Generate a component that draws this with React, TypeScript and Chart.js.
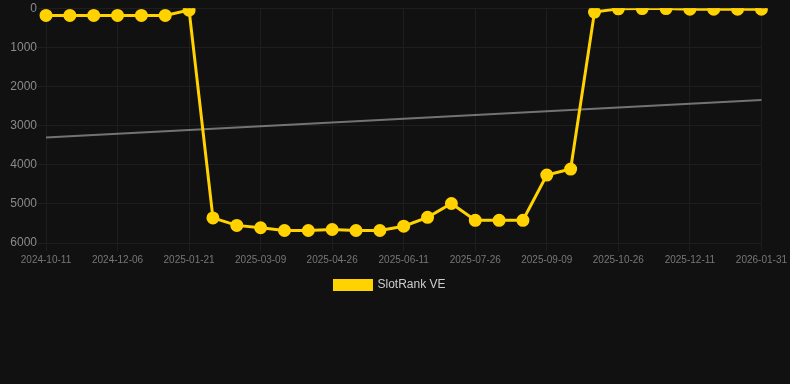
import React, { useEffect, useRef } from "react";
import { Chart, registerables } from "chart.js";

Chart.register(...registerables);

const labels: string[] = [
  "2024-10-11", "2024-10-30", "2024-11-18", "2024-12-06", "2024-12-21", "2025-01-05",
  "2025-01-21", "2025-02-05", "2025-02-22", "2025-03-09", "2025-03-25", "2025-04-10",
  "2025-04-26", "2025-05-11", "2025-05-27", "2025-06-11", "2025-06-26", "2025-07-11",
  "2025-07-26", "2025-08-10", "2025-08-25", "2025-09-09", "2025-09-25", "2025-10-10",
  "2025-10-26", "2025-11-10", "2025-11-26", "2025-12-11", "2025-12-28", "2026-01-14",
  "2026-01-31",
];

const rankValues: number[] = [
  185, 185, 185, 185, 185, 185, 50, 5360, 5550, 5610, 5680, 5680, 5655, 5680, 5680, 5570,
  5345, 4990, 5420, 5420, 5420, 4265, 4110, 100, 15, 10, 10, 25, 25, 25, 25,
];

const trendStart = 3305;
const trendEnd = 2348;

const yTicks = { min: 0, max: 6000, step: 1000 };

export default function App() {
  const ref = useRef<HTMLCanvasElement | null>(null);

  useEffect(() => {
    document.body.style.margin = "0";
    document.body.style.background = "#111111";
    if (!ref.current) return;
    const chart = new Chart(ref.current, {
      type: "line",
      data: {
        labels,
        datasets: [
          {
            label: "SlotRank VE",
            data: rankValues,
            borderColor: "#FFD200",
            backgroundColor: "#FFD200",
            borderWidth: 3,
            pointRadius: 5,
            pointHoverRadius: 5,
            pointBackgroundColor: "#FFD200",
            pointBorderColor: "#FFD200",
            tension: 0,
          },
          {
            label: "trend",
            data: [
              { x: labels[0], y: trendStart },
              { x: labels[labels.length - 1], y: trendEnd },
            ] as any,
            borderColor: "rgba(140,140,140,0.8)",
            backgroundColor: "rgba(140,140,140,0.8)",
            borderWidth: 2,
            pointRadius: 0,
            tension: 0,
          },
        ],
      },
      options: {
        animation: false,
        responsive: false,
        maintainAspectRatio: false,
        layout: { padding: { top: -4, left: 0, right: 10, bottom: 0 } },
        plugins: {
          legend: {
            position: "bottom",
            labels: {
              color: "#cccccc",
              boxWidth: 37,
              boxHeight: 9,
              font: { size: 12 },
              filter: (item) => item.text !== "trend",
            },
          },
          tooltip: { enabled: false },
        },
        scales: {
          x: {
            type: "category",
            grid: { color: "#1e1e1e", tickColor: "#1e1e1e" },
            border: { color: "#1e1e1e" },
            ticks: {
              color: "#777777",
              font: { size: 10 },
              autoSkip: true,
              maxTicksLimit: 11,
              maxRotation: 0,
            },
          },
          y: {
            reverse: true,
            min: yTicks.min,
            max: yTicks.max,
            grid: { color: "#1e1e1e", tickColor: "#1e1e1e" },
            border: { color: "#1e1e1e" },
            afterFit: (scale: any) => {
              scale.width = 46;
            },
            ticks: {
              color: "#8a8a8a",
              font: { size: 12 },
              stepSize: yTicks.step,
              padding: 1,
              callback: (v) => String(v),
            },
          },
        },
      },
    });
    return () => chart.destroy();
  }, []);

  return (
    <div style={{ width: 790, height: 384, background: "#111111" }}>
      <canvas ref={ref} width={790} height={301} />
    </div>
  );
}
